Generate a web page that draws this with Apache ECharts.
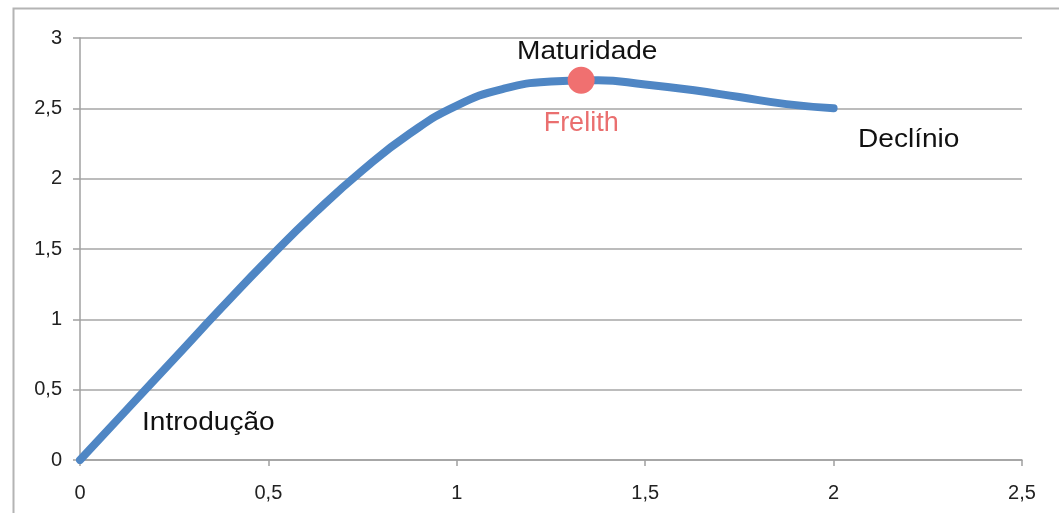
<!DOCTYPE html>
<html>
<head>
<meta charset="utf-8">
<script src="https://cdn.jsdelivr.net/npm/echarts@6/dist/echarts.min.js"></script>
<style>
  html, body { margin: 0; padding: 0; background: #fff; }
  #chart { width: 1059px; height: 513px; }
</style>
</head>
<body>
<div id="chart"></div>
<script>
// curva do ciclo de vida
const curveX = [0, 0.125, 0.25, 0.375, 0.5, 0.625, 0.75, 0.875, 1.0,
                1.125, 1.25, 1.375, 1.5, 1.625, 1.75, 1.875, 2.0];
const curveY = [0, 0.36, 0.72, 1.08, 1.43, 1.76, 2.06, 2.32, 2.52,
                2.64, 2.69, 2.70, 2.67, 2.63, 2.58, 2.53, 2.5];
const pointX = [1.33];
const pointY = [2.7];
const pointName = ["Frelith"];
const xTicks = [0, 0.5, 1, 1.5, 2, 2.5];
const yTicks = [0, 0.5, 1, 1.5, 2, 2.5, 3];

const fmt = v => String(v).replace(".", ",");
const labelFont = "26px 'Liberation Sans'";

const chart = echarts.init(document.getElementById("chart"));
const option = {
  animation: false,
  grid: { left: 80, right: 37, top: 38, bottom: 53 },
  xAxis: {
    type: "value",
    min: xTicks[0],
    max: xTicks[xTicks.length - 1],
    interval: 0.5,
    axisLine: { show: true, lineStyle: { color: "#a0a0a0", width: 1.5 } },
    axisTick: { show: true, length: 6, lineStyle: { color: "#a0a0a0", width: 1.5 } },
    splitLine: { show: false },
    axisLabel: {
      formatter: fmt, color: "#222", fontSize: 20,
      fontFamily: "Liberation Sans", margin: 23
    }
  },
  yAxis: {
    type: "value",
    min: yTicks[0],
    max: yTicks[yTicks.length - 1],
    interval: 0.5,
    axisLine: { show: true, lineStyle: { color: "#a0a0a0", width: 1.5 } },
    axisTick: { show: true, length: 7, lineStyle: { color: "#a0a0a0", width: 1.5 } },
    splitLine: { show: true, lineStyle: { color: "#a6a6a6", width: 1.5 } },
    axisLabel: {
      formatter: fmt, color: "#222", fontSize: 20,
      fontFamily: "Liberation Sans", margin: 18
    }
  },
  series: [
    {
      type: "line",
      data: curveX.map((x, i) => [x, curveY[i]]),
      smooth: 0.5,
      showSymbol: false,
      lineStyle: { color: "#4f86c4", width: 8, cap: "round" },
      z: 2
    },
    {
      type: "scatter",
      data: pointX.map((x, i) => ({ value: [x, pointY[i]], name: pointName[i] })),
      symbolSize: 27,
      itemStyle: { color: "#f07070", opacity: 1 },
      label: {
        show: true, position: "bottom", distance: 16,
        formatter: p => p.name, color: "#ea6f6f", fontSize: 27,
        fontFamily: "Liberation Sans"
      },
      z: 3
    }
  ],
  graphic: [
    {
      type: "rect", left: 11, top: 6, silent: true,
      shape: { width: 1200, height: 700 },
      style: { fill: null, stroke: "#b4b4b4", lineWidth: 2 }
    },
    {
      type: "text", left: 517, top: 39, scaleX: 1.08,
      style: { text: "Maturidade", fill: "#111", font: labelFont }
    },
    {
      type: "text", left: 858, top: 127, scaleX: 1.08,
      style: { text: "Declínio", fill: "#111", font: labelFont }
    },
    {
      type: "text", left: 142, top: 410, scaleX: 1.08,
      style: { text: "Introdução", fill: "#111", font: labelFont }
    }
  ]
};
option && chart.setOption(option);
</script>
</body>
</html>
